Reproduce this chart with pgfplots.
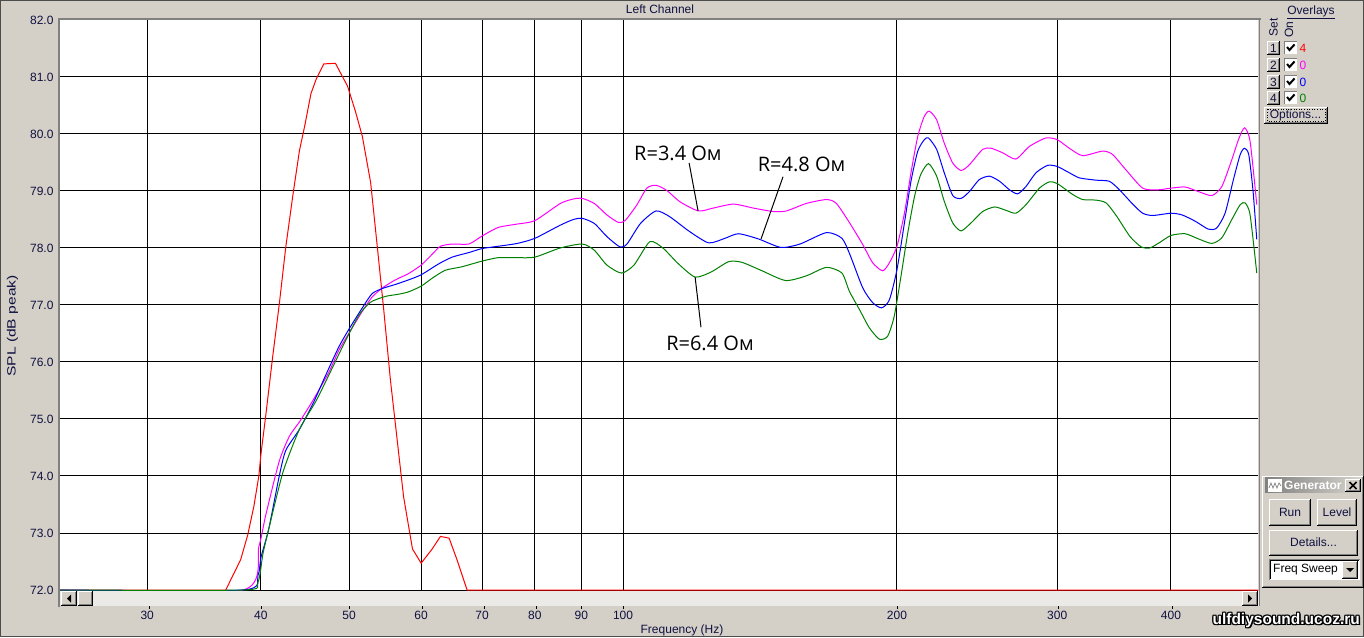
\documentclass[border=0pt]{standalone}
\usepackage{fontspec}
\setmainfont{Liberation Sans}
\newfontfamily\annfont{Open Sans}
\usepackage{pgfplots}
\pgfplotsset{compat=1.18}
\definecolor{winbg}{RGB}{212,208,200}
\definecolor{winshadow}{RGB}{128,128,128}
\definecolor{labelcol}{RGB}{16,16,64}
\definecolor{scrollbg}{RGB}{236,234,230}
\definecolor{curvered}{RGB}{255,0,0}
\definecolor{curvemag}{RGB}{255,0,255}
\definecolor{curveblue}{RGB}{0,0,255}
\definecolor{curvegreen}{RGB}{0,128,0}

% raised windows button, coordinates in px from the top left corner
\newcommand{\winbtn}[4]{%
  \fill[winbg] (#1,#2) rectangle (#3,#4);
  \draw[white, line width=1pt] (#1+0.5,#4-1) -- (#1+0.5,#2+0.5) -- (#3-1,#2+0.5);
  \draw[winshadow, line width=1pt] (#1+1,#4-1.5) -- (#3-1.5,#4-1.5) -- (#3-1.5,#2+1);
  \draw[black, line width=1pt] (#1,#4-0.5) -- (#3-0.5,#4-0.5) -- (#3-0.5,#2);
}
\newcommand{\wincheck}[2]{%
  \fill[white] (#1,#2) rectangle (#1+13,#2+13);
  \draw[winshadow, line width=1pt] (#1+0.5,#2+13) -- (#1+0.5,#2+0.5) -- (#1+13,#2+0.5);
  \draw[black, line width=2pt, line join=miter] (#1+3,#2+6) -- (#1+5.5,#2+9) -- (#1+10.5,#2+3.5);
}

\begin{document}
\begin{tikzpicture}[x=1pt,y=1pt]
\fill[winbg] (0,0) rectangle (1364,637);
\useasboundingbox (0,0) rectangle (1364,637);

\begin{axis}[
  at={(60pt,47pt)}, anchor=south west,
  width=1198pt, height=570pt, scale only axis,
  xmode=log, xmin=24.06, xmax=498.6,
  ymin=72, ymax=82,
  xtick={30,40,50,60,70,80,90,100,200,300,400},
  xticklabels={30,40,50,60,70,80,90,100,200,300,400},
  minor xtick={},
  ytick={72,73,74,75,76,77,78,79,80,81,82},
  yticklabels={72.0,73.0,74.0,75.0,76.0,77.0,78.0,79.0,80.0,81.0,82.0},
  grid=major,
  grid style={black, line width=1pt},
  major tick length=0pt,
  axis line style={draw=none},
  axis background/.style={fill=white},
  tick label style={font=\fontsize{12}{14}\selectfont, text=labelcol},
  xticklabel style={anchor=base, yshift=-29pt},
  yticklabel style={xshift=-3pt},
]
% red: set 1
\addplot[curvered, line width=1pt] coordinates {
(24.06,72) (36.6,72) (38.0,72.53) (38.7,72.97) (39.3,73.47) (39.8,74.0) (40.0,74.38)
(40.5,75.07) (41.2,76.08) (41.9,77.01) (42.6,78.02) (43.4,78.96) (44.1,79.71) (44.7,80.15)
(45.4,80.71) (46.0,80.96) (46.9,81.23) (48.3,81.24) (49.8,80.84) (50.8,80.40) (51.7,79.96)
(52.8,79.15) (53.7,78.02) (54.6,76.89) (55.5,75.70) (56.7,74.38) (57.4,73.63) (58.7,72.72)
(60.0,72.47) (61.7,72.72) (63.0,72.94) (64.4,72.91) (65.7,72.53) (67.4,72.0) (498.6,72)
};
% magenta: R=3.4
\addplot[curvemag, line width=1pt, smooth, tension=0.4] coordinates {
(24.06,72) (38.2,72) (39.8,72.76) (40.5,73.32) (41.9,74.26) (43.0,74.70) (44.1,74.95)
(45.6,75.32) (47.5,75.82) (48.7,76.20) (50,76.51) (51.7,76.89) (53.0,77.14) (54.4,77.30)
(56.2,77.44) (58.1,77.55) (60,77.70) (61.7,77.89) (63.0,78.03) (64.9,78.07) (67.7,78.07)
(70,78.21) (72.9,78.36) (76.5,78.42) (80,78.48) (85.3,78.78) (88.2,78.86) (90.2,78.87)
(93.0,78.78) (96.0,78.58) (98.8,78.45) (100.5,78.48) (103.5,78.75) (106.2,79.05) (108.7,79.10)
(111.7,79.01) (115.5,78.81) (121.0,78.65) (125.6,78.70) (132.2,78.77) (139.1,78.70) (146.2,78.64)
(151.2,78.65) (158.9,78.78) (167.3,78.85) (171.6,78.78) (177.6,78.43) (183.4,78.06) (188.1,77.74)
(192.9,77.60) (196.2,77.74) (200,78.03) (203.8,78.61) (207.2,79.32) (210.8,79.96) (214.3,80.31)
(217.0,80.40) (221.1,80.25) (225.4,79.84) (230.3,79.49) (235.2,79.36) (240.2,79.46) (248.4,79.73)
(253.7,79.75) (261.3,79.67) (270.2,79.56) (279.5,79.78) (291.5,79.93) (300,79.90) (309.3,79.75)
(319.9,79.62) (336.5,79.70) (345.1,79.64) (357.0,79.37) (372.4,79.05) (386.8,79.02) (400,79.05)
(414.6,79.07) (428.8,78.99) (443.6,78.92) (455.0,79.08) (466.6,79.55) (474.5,79.90) (481.8,80.11)
(488.7,79.87) (497.0,78.76)
};
% blue: R=4.8
\addplot[curveblue, line width=1pt, smooth, tension=0.4] coordinates {
(24.06,72) (38.2,72) (39.7,72.25) (40,72.57) (40.8,73.07) (41.9,74.0) (42.6,74.45) (44.1,74.82)
(45.6,75.26) (47.1,75.76) (48.7,76.26) (50,76.58) (51.7,76.95) (53.0,77.20) (54.4,77.29)
(56.2,77.36) (58.1,77.44) (60,77.53) (62.7,77.72) (64.9,77.84) (67.7,77.92) (70,77.99)
(72.9,78.03) (76.5,78.08) (80,78.17) (85.3,78.40) (88.2,78.50) (90.2,78.52) (93.0,78.43)
(96.0,78.20) (99.2,78.02) (101.0,78.07) (104.5,78.43) (108.7,78.65) (112.5,78.55) (118.3,78.29)
(124.2,78.09) (129.4,78.17) (133.9,78.25) (140.8,78.16) (149.1,78.01) (156.5,78.07) (167.3,78.27)
(174.0,78.17) (177.6,77.88) (183.4,77.30) (188.1,77.04) (192.4,76.95) (196.2,77.09) (200,77.62)
(203.8,78.44) (207.2,79.17) (210.8,79.70) (214.3,79.90) (216.6,79.93) (221.1,79.73) (225.4,79.32)
(230.3,78.92) (235.2,78.87) (240.2,78.99) (246.3,79.20) (252.7,79.26) (259.3,79.17) (265.9,79.02)
(271.4,78.95) (277.2,79.08) (284.3,79.32) (292.8,79.45) (300,79.43) (309.3,79.32) (317.3,79.23)
(330.9,79.19) (342.3,79.17) (351.2,79.02) (363.6,78.76) (372.4,78.61) (381.9,78.57) (400,78.61)
(411.4,78.58) (425.3,78.47) (439.8,78.33) (449.0,78.35) (458.7,78.61) (468.5,79.20) (476.6,79.64)
(481.8,79.75) (487.0,79.64) (492.2,79.02) (497.0,78.15)
};
% green: R=6.4
\addplot[curvegreen, line width=1pt, smooth, tension=0.4] coordinates {
(24.06,72) (38.2,72) (39.7,72.13) (40.2,72.63) (40.8,73.07) (42.3,74.07) (44.1,74.82) (46.0,75.32)
(47.9,75.89) (49.6,76.39) (51.3,76.83) (52.8,77.05) (54.8,77.15) (56.7,77.19) (58.1,77.23)
(60,77.33) (61.7,77.47) (63.8,77.61) (66.5,77.67) (70,77.77) (72.9,77.83) (76.5,77.83)
(80,77.84) (85.3,78.0) (90.2,78.07) (93.0,77.96) (96.0,77.70) (99.6,77.56) (102.8,77.70)
(107.0,78.11) (110.6,78.0) (114.9,77.73) (120.0,77.49) (125.0,77.58) (130.6,77.76) (135.0,77.75)
(141.7,77.61) (150.8,77.43) (158.9,77.51) (167.3,77.66) (174.0,77.56) (177.3,77.24) (181.9,76.92)
(186.5,76.60) (191.3,76.40) (195.3,76.45) (198.6,76.80) (202.0,77.50) (205.5,78.26) (209.1,78.91)
(212.4,79.29) (216.6,79.48) (221.1,79.26) (225.4,78.82) (230.3,78.44) (235.2,78.30) (241.2,78.44)
(248.4,78.64) (256.0,78.72) (263.6,78.66) (270.2,78.61) (277.2,78.76) (286.8,79.05) (294.1,79.16)
(300,79.13) (311.9,78.94) (319.9,78.85) (330.9,78.84) (339.6,78.79) (348.6,78.56) (360.7,78.20)
(371.0,78.02) (379.1,78.0) (388.2,78.09) (400,78.22) (414.6,78.25) (428.8,78.16) (443.6,78.08)
(455.0,78.18) (466.6,78.50) (476.6,78.76) (482.6,78.79) (488.7,78.58) (497.0,77.56)
};
% annotations
\draw[black, line width=1pt] (axis cs:118.2,79.49) -- (axis cs:120.9,78.65);
\draw[black, line width=1pt] (axis cs:149.9,79.25) -- (axis cs:141.8,78.16);
\draw[black, line width=1pt] (axis cs:120.0,77.49) -- (axis cs:121.8,76.61);
\node[font=\annfont\fontsize{20}{24}\selectfont, inner sep=0pt] at (axis cs:114.9,79.66) {R=3.4 Ом};
\node[font=\annfont\fontsize{20}{24}\selectfont, inner sep=0pt] at (axis cs:157.1,79.46) {R=4.8 Ом};
\node[font=\annfont\fontsize{20}{24}\selectfont, inner sep=0pt] at (axis cs:124.6,76.32) {R=6.4 Ом};
\end{axis}

\begin{scope}[shift={(0,637)}, yscale=-1]
  % outer border
  \draw[black!70, line width=1pt] (0.5,0.5) rectangle (1363.5,636.5);
  % sunken plot frame
  \draw[winshadow, line width=2pt] (59,607) -- (59,19) -- (1261,19);
  \draw[winshadow, line width=1pt] (1259.5,19) -- (1259.5,606);
  % scrollbar
  \fill[scrollbg] (60,590.5) rectangle (1259,606);
  \winbtn{61}{591}{77}{606}
  \fill[black] (71,594.5) -- (71,602.5) -- (67,598.5) -- cycle;
  \winbtn{78}{591}{93}{606}
  \winbtn{1242}{591}{1258}{606}
  \fill[black] (1248,594.5) -- (1248,602.5) -- (1252,598.5) -- cycle;
  % small x ticks under scrollbar
  \foreach \xx in {149,261,349,422,484,536,581,623,897,1058,1172}
    \draw[black, line width=1pt] (\xx,606) -- (\xx,609);
  % titles
  \node[font=\fontsize{12}{14}\selectfont, text=labelcol] at (660,9) {Left Channel};
  \node[font=\fontsize{12}{14}\selectfont, text=labelcol] at (682,630) {Frequency (Hz)};
  \node[font=\fontsize{12}{14}\selectfont, text=labelcol, rotate=90] at (12.5,326)
    {\scalebox{1.3}[1]{SPL (dB peak)}};

  % overlays panel
  \node[font=\fontsize{12}{14}\selectfont, text=labelcol] at (1311,12.5) {\underline{Overlays}};
  \node[font=\fontsize{12}{14}\selectfont, text=labelcol, rotate=90] at (1273.5,27.5) {Set};
  \node[font=\fontsize{12}{14}\selectfont, text=labelcol, rotate=90] at (1289,29.5) {On};
  \foreach \yy/\nn/\num/\cc in {41/1/4/curvered, 58/2/0/curvemag, 75/3/0/curveblue, 91/4/0/curvegreen} {
    \winbtn{1267}{\yy}{1280}{\yy+14}
    \node[font=\fontsize{12}{14}\selectfont, text=labelcol] at (1273.5,\yy+7) {\nn};
    \wincheck{1284}{\yy}
    \node[font=\fontsize{12}{14}\selectfont, text=\cc] at (1303,\yy+7) {\num};
  }
  \winbtn{1264}{107}{1328}{124}
  \draw[black, line width=0.6pt, dotted] (1267,109.5) rectangle (1325,121);
  \node[font=\fontsize{12}{14}\selectfont, text=labelcol] at (1295.5,115.5) {Options...};

  % generator panel
  \winbtn{1262}{476}{1364}{588}
  \shade[left color=winshadow, right color=winbg!90!white] (1265,478) rectangle (1362,493);
  \fill[white] (1268,479) rectangle (1282,492);
  \draw[winshadow, line width=0.7pt] (1269,488) -- (1271,483) -- (1273,488) -- (1275,483) -- (1277,488) -- (1279,483) -- (1281,486);
  \node[font=\bfseries\fontsize{12}{14}\selectfont, text=white, anchor=west, inner sep=0pt] at (1284,485.5) {Generator};
  \winbtn{1345}{479}{1361}{492}
  \draw[black, line width=1.5pt] (1349.5,482) -- (1356.5,489) (1349.5,489) -- (1356.5,482);
  \winbtn{1269}{499}{1311}{526}
  \node[font=\fontsize{12}{14}\selectfont, text=labelcol] at (1290,512) {Run};
  \winbtn{1317}{499}{1357}{526}
  \node[font=\fontsize{12}{14}\selectfont, text=labelcol] at (1337,512) {Level};
  \winbtn{1269}{530}{1358}{556}
  \node[font=\fontsize{12}{14}\selectfont, text=labelcol] at (1313.5,542.5) {Details...};
  \fill[white] (1269,559) rectangle (1360,580);
  \draw[winshadow, line width=1pt] (1269.5,580) -- (1269.5,559.5) -- (1360,559.5);
  \draw[black, line width=1pt] (1270.5,579) -- (1270.5,560.5) -- (1359,560.5);
  \node[font=\fontsize{12}{14}\selectfont, text=black, anchor=west, inner sep=0pt] at (1273,570) {Freq Sweep};
  \winbtn{1342}{561}{1358}{579}
  \fill[black] (1346,568) -- (1354,568) -- (1350,572) -- cycle;

  % watermark
  \foreach \dx/\dy in {-1/-1,0/-1,1/-1,-1/0,1/0,-1/1,0/1,1/1,1.5/1.5}
    \node[font=\bfseries\fontsize{15.5}{18}\selectfont, text=black, anchor=east, inner sep=0pt] at (1360+\dx,620+\dy) {ulfdiysound.ucoz.ru};
  \node[font=\bfseries\fontsize{15.5}{18}\selectfont, text=white, anchor=east, inner sep=0pt] at (1360,620) {ulfdiysound.ucoz.ru};
\end{scope}
\end{tikzpicture}
\end{document}
